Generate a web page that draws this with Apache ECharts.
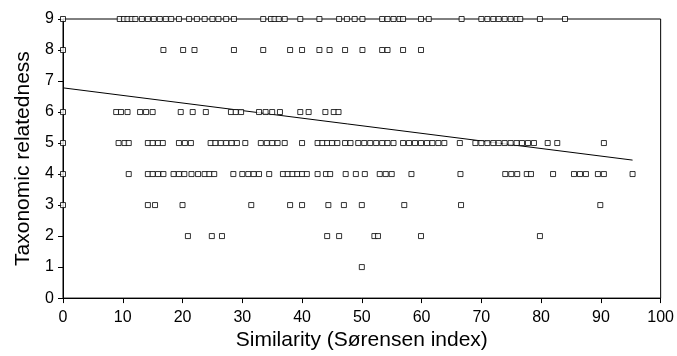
<!DOCTYPE html>
<html>
<head>
<meta charset="utf-8">
<script src="https://cdn.jsdelivr.net/npm/echarts@6/dist/echarts.min.js"></script>
<style>
  html, body { margin: 0; padding: 0; background: #fff; }
  #chart { width: 677px; height: 356px; }
</style>
</head>
<body>
<div id="chart"></div>
<script>
// x positions (Sørensen similarity) of the points on each relatedness level
const level9 = [0, 9.5, 10.2, 10.8, 11.5, 12.1, 13.2, 14.2, 15.2, 16.2, 17.2, 18.1, 19.4, 21.1, 22.4, 23.7, 25.0, 26.0, 27.3, 28.6,
  33.5, 34.8, 35.4, 36.1, 37.1, 39.7, 42.9, 46.2, 47.5, 48.8, 50.1, 53.4, 54.3, 55.3, 56.3, 56.9, 59.9, 61.2,
  66.7, 70.0, 71.0, 72.0, 72.9, 73.9, 74.9, 75.9, 76.5, 79.8, 84.0]
const level8 = [0, 16.8, 20.1, 22.0, 28.6, 33.5, 38.0, 40.0, 42.9, 44.6, 47.2, 50.1, 53.4, 54.3, 56.9, 59.9]
const level6 = [0, 8.9, 9.7, 10.8, 12.9, 13.9, 15.0, 19.7, 21.7, 23.9, 28.1, 28.9, 29.8, 32.8, 33.9, 35.0, 36.3, 39.7, 41.1, 43.9, 45.3, 46.1]
const level5 = [0, 9.3, 10.3, 11.0, 14.2, 15.0, 15.9, 16.7, 19.4, 20.4, 21.4, 24.7, 25.5, 26.4, 27.3, 28.2, 29.1, 30.5,
  33.1, 34.1, 35.0, 35.9, 37.1, 40.0, 42.6, 43.4, 44.2, 45.0, 45.9, 47.2, 48.1, 49.4, 50.4, 51.4, 52.4, 53.4, 54.3, 55.3,
  56.9, 57.9, 58.9, 59.9, 60.9, 61.8, 62.8, 63.8, 66.4, 69.0, 70.0, 71.0, 72.0, 72.9, 73.9, 74.9, 75.9, 76.8, 77.8, 78.8,
  81.1, 82.7, 90.5]
const level4 = [0, 11.0, 14.2, 15.0, 15.9, 16.8, 18.5, 19.4, 20.3, 21.5, 22.6, 23.7, 24.5, 25.3, 28.5, 30.0, 31.0, 31.9, 32.8,
  34.5, 36.8, 37.6, 38.4, 39.2, 40.0, 40.8, 42.6, 44.0, 44.7, 47.3, 49.0, 50.5, 53.0, 54.0, 55.0, 58.3, 66.5,
  74.0, 75.0, 76.0, 77.6, 78.3, 82.0, 85.5, 86.5, 87.5, 89.5, 90.5, 95.3]
const level3 = [0, 14.2, 15.4, 20.0, 31.5, 38.0, 40.0, 44.4, 47.0, 50.0, 57.1, 66.6, 89.9]
const level2 = [20.9, 24.9, 26.6, 44.2, 46.2, 52.1, 52.7, 59.9, 79.8]
const level1 = [50.0]

// fitted regression line end points
const trendX = [0, 95.3]
const trendY = [6.78, 4.45]

const levels = [[9, level9], [8, level8], [6, level6], [5, level5], [4, level4], [3, level3], [2, level2], [1, level1]]
const points = []
levels.forEach(([y, xs]) => xs.forEach((x) => points.push([x, y])))

const font = 'Liberation Sans, Arial, sans-serif'
const chart = echarts.init(document.getElementById('chart'), null, { renderer: 'canvas' })

const option = {
  animation: false,
  backgroundColor: '#fff',
  grid: {
    left: 63,
    right: 15,
    top: 19,
    bottom: 57,
    show: true,
    borderColor: '#000',
    borderWidth: 1,
    backgroundColor: 'transparent',
  },
  xAxis: {
    type: 'value',
    min: 0,
    max: 100,
    interval: 10,
    name: 'Similarity (Sørensen index)',
    nameLocation: 'middle',
    nameGap: 28,
    nameTextStyle: { color: '#000', fontSize: 21, fontFamily: font },
    axisLine: { show: true, lineStyle: { color: '#000', width: 1 } },
    axisTick: { show: true, length: 5, lineStyle: { color: '#000' } },
    axisLabel: { color: '#000', fontSize: 16, fontFamily: font, margin: 11 },
    splitLine: { show: false },
  },
  yAxis: {
    type: 'value',
    min: 0,
    max: 9,
    interval: 1,
    name: 'Taxonomic relatedness',
    nameLocation: 'middle',
    nameGap: 16,
    nameTextStyle: { color: '#000', fontSize: 21, fontFamily: font },
    axisLine: { show: true, lineStyle: { color: '#000', width: 1 } },
    axisTick: { show: true, length: 5, lineStyle: { color: '#000' } },
    axisLabel: { color: '#000', fontSize: 16, fontFamily: font, margin: 9 },
    splitLine: { show: false },
  },
  series: [
    {
      type: 'line',
      data: trendX.map((x, i) => [x, trendY[i]]),
      symbol: 'none',
      lineStyle: { color: '#000', width: 1 },
      z: 1,
    },
    {
      type: 'scatter',
      data: points,
      symbol: 'rect',
      symbolSize: 5,
      itemStyle: { color: '#fff', borderColor: '#000', borderWidth: 1 },
      z: 2,
    },
  ],
}

option && chart.setOption(option)
</script>
</body>
</html>
